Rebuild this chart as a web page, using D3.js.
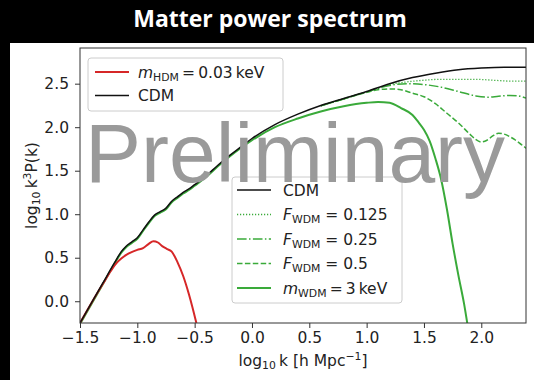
<!DOCTYPE html>
<html>
<head>
<meta charset="utf-8">
<script src="https://cdn.jsdelivr.net/npm/d3@7"></script>
<style>
  html, body { margin: 0; padding: 0; background: #000; }
  svg { display: block; }
</style>
</head>
<body>
<div id="chart"></div>
<script>
// x ticks / y ticks
var xTicks = [-1.5, -1.0, -0.5, 0.0, 0.5, 1.0, 1.5, 2.0];
var yTicks = [0.0, 0.5, 1.0, 1.5, 2.0, 2.5];

// CDM
var cdmLogK = [-1.5, -1.4, -1.3, -1.2, -1.14, -1.1, -1.05, -1.0, -0.95, -0.9, -0.85, -0.8, -0.75, -0.7, -0.65, -0.6, -0.55, -0.5, -0.4, -0.3, -0.2, -0.1, 0.0, 0.2, 0.4, 0.6, 0.8, 1.0, 1.2, 1.4, 1.6, 1.8, 2.0, 2.2, 2.4];
var cdmValues = [-0.25, -0.02, 0.21, 0.44, 0.57, 0.63, 0.68, 0.73, 0.82, 0.91, 0.99, 1.03, 1.07, 1.15, 1.2, 1.25, 1.29, 1.34, 1.44, 1.56, 1.67, 1.77, 1.87, 2.03, 2.15, 2.25, 2.33, 2.41, 2.5, 2.57, 2.62, 2.66, 2.68, 2.69, 2.69];

// HDM 0.03 keV
var hdmLogK = [-1.5, -1.4, -1.3, -1.23, -1.18, -1.14, -1.1, -1.05, -1.0, -0.95, -0.9, -0.86, -0.82, -0.78, -0.74, -0.7, -0.65, -0.6, -0.55, -0.52, -0.485];
var hdmValues = [-0.25, -0.02, 0.2, 0.35, 0.44, 0.49, 0.53, 0.565, 0.59, 0.61, 0.66, 0.69, 0.675, 0.63, 0.6, 0.57, 0.45, 0.29, 0.08, -0.065, -0.25];

// WDM 3 keV
var wdmLogK = [-1.5, -1.4, -1.3, -1.2, -1.14, -1.1, -1.05, -1.0, -0.95, -0.9, -0.85, -0.8, -0.75, -0.7, -0.65, -0.6, -0.55, -0.5, -0.4, -0.3, -0.2, -0.1, 0.0, 0.2, 0.4, 0.6, 0.8, 1.0, 1.1, 1.2, 1.3, 1.4, 1.45, 1.5, 1.55, 1.6, 1.65, 1.7, 1.75, 1.8, 1.85, 1.88];
var wdmValues = [-0.262, -0.032, 0.198, 0.428, 0.558, 0.618, 0.668, 0.718, 0.808, 0.898, 0.978, 1.018, 1.058, 1.138, 1.188, 1.238, 1.278, 1.328, 1.428, 1.548, 1.658, 1.758, 1.85, 2.0, 2.1, 2.18, 2.24, 2.28, 2.29, 2.28, 2.22, 2.14, 2.06, 1.97, 1.84, 1.64, 1.4, 1.06, 0.66, 0.3, -0.03, -0.27];

// F_WDM = 0.5
var f050LogK = [0.6, 0.8, 0.9, 1.0, 1.1, 1.2, 1.3, 1.4, 1.5, 1.6, 1.7, 1.8, 1.9, 1.95, 2.0, 2.05, 2.1, 2.15, 2.2, 2.25, 2.3, 2.35, 2.4];
var f050Values = [2.245, 2.325, 2.365, 2.40, 2.43, 2.44, 2.43, 2.39, 2.35, 2.27, 2.16, 2.05, 1.92, 1.86, 1.83, 1.85, 1.9, 1.93, 1.92, 1.89, 1.85, 1.8, 1.75];

// F_WDM = 0.25
var f025LogK = [0.6, 0.8, 1.0, 1.2, 1.35, 1.5, 1.65, 1.8, 1.95, 2.05, 2.15, 2.25, 2.32, 2.4];
var f025Values = [2.245, 2.325, 2.405, 2.48, 2.5, 2.49, 2.46, 2.41, 2.36, 2.345, 2.355, 2.365, 2.36, 2.33];

// F_WDM = 0.125
var f0125LogK = [0.6, 0.8, 1.0, 1.2, 1.35, 1.5, 1.65, 1.8, 1.95, 2.1, 2.25, 2.4];
var f0125Values = [2.245, 2.325, 2.405, 2.49, 2.52, 2.54, 2.55, 2.55, 2.55, 2.54, 2.53, 2.53];

var width = 534, height = 380;
var margin = {top: 48, right: 8, bottom: 57, left: 80};
var tickFont = "'DejaVu Sans', sans-serif";
var green = "#3aaa3a", red = "#d62728";

var svg = d3.select("#chart").append("svg")
    .attr("width", width)
    .attr("height", height);

svg.append("rect").attr("width", width).attr("height", height).attr("fill", "#000");
svg.append("rect").attr("x", 10).attr("y", 43).attr("width", width - 10).attr("height", height - 43).attr("fill", "#fff");

svg.append("text")
    .attr("x", 270).attr("y", 27)
    .attr("text-anchor", "middle")
    .attr("fill", "#fff")
    .style("font-family", "'Open Sans', sans-serif")
    .style("font-weight", "bold")
    .style("font-size", "23px")
    .text("Matter power spectrum");

var x = d3.scaleLinear().domain([-1.5, 2.39]).range([margin.left, width - margin.right]);
var y = d3.scaleLinear().domain([-0.25, 2.91]).range([height - margin.bottom, margin.top]);

svg.append("clipPath").attr("id", "plotclip")
  .append("rect")
    .attr("x", x.range()[0]).attr("y", y.range()[1])
    .attr("width", x.range()[1] - x.range()[0])
    .attr("height", y.range()[0] - y.range()[1]);

var xAxis = svg.append("g")
    .attr("transform", "translate(0," + y.range()[0] + ")")
    .call(d3.axisBottom(x).tickValues(xTicks).tickFormat(d3.format(".1f")).tickSize(5).tickPadding(4));
var yAxis = svg.append("g")
    .attr("transform", "translate(" + x.range()[0] + ",0)")
    .call(d3.axisLeft(y).tickValues(yTicks).tickFormat(d3.format(".1f")).tickSize(5).tickPadding(6));

[xAxis, yAxis].forEach(function(a) {
    a.select(".domain").remove();
    a.selectAll(".tick line").attr("stroke", "#333");
    a.selectAll(".tick text")
        .attr("fill", "#222")
        .style("font-family", tickFont)
        .style("font-size", "15.5px");
});

function zip(ks, vs) {
    return ks.map(function(k, i) { return [k, vs[i]]; });
}

var line = d3.line()
    .x(function(d) { return x(d[0]); })
    .y(function(d) { return y(d[1]); })
    .curve(d3.curveMonotoneX);

var series = [
    {name: "f0125", data: zip(f0125LogK, f0125Values), color: green, dash: "1.2,1.8", width: 1.3},
    {name: "f025", data: zip(f025LogK, f025Values), color: green, dash: "9.6,2.4,1.5,2.4", width: 1.5},
    {name: "f050", data: zip(f050LogK, f050Values), color: green, dash: "5.5,2.4", width: 1.5},
    {name: "wdm", data: zip(wdmLogK, wdmValues), color: green, dash: null, width: 2},
    {name: "hdm", data: zip(hdmLogK, hdmValues), color: red, dash: null, width: 2},
    {name: "cdm", data: zip(cdmLogK, cdmValues), color: "#111", dash: null, width: 1.5}
];

var plot = svg.append("g").attr("clip-path", "url(#plotclip)");
plot.selectAll("path.series")
    .data(series).enter()
    .append("path")
    .attr("class", "series")
    .attr("fill", "none")
    .attr("stroke", function(s) { return s.color; })
    .attr("stroke-width", function(s) { return s.width; })
    .attr("stroke-dasharray", function(s) { return s.dash; })
    .attr("d", function(s) { return line(s.data); });

svg.append("rect")
    .attr("x", x.range()[0]).attr("y", y.range()[1])
    .attr("width", x.range()[1] - x.range()[0])
    .attr("height", y.range()[0] - y.range()[1])
    .attr("fill", "none")
    .attr("stroke", "#333")
    .attr("stroke-width", 1);

// legend helper: label parts are [text, style] where style is "i" italic, "sub", "sup" or ""
function addLabel(sel, parts, size) {
    var shift = 0;
    parts.forEach(function(p) {
        var t = sel.append("tspan").text(p[0]);
        var target = 0;
        if (p[1] === "i") t.style("font-style", "italic");
        if (p[1] === "sub") { t.style("font-size", (size * 0.7) + "px"); target = size * 0.22; }
        if (p[1] === "sup") { t.style("font-size", (size * 0.7) + "px"); target = -size * 0.38; }
        if (target !== shift) { t.attr("dy", target - shift); shift = target; }
    });
}

function drawLegend(box, entries) {
    var g = svg.append("g");
    g.append("rect")
        .attr("x", box.x).attr("y", box.y)
        .attr("width", box.w).attr("height", box.h)
        .attr("rx", 3)
        .attr("fill", "#fff").attr("fill-opacity", 0.8)
        .attr("stroke", "#ccc");
    entries.forEach(function(e, i) {
        var yy = box.y + box.first + i * box.step;
        g.append("line")
            .attr("x1", box.x + box.hx).attr("x2", box.x + box.hx + 34)
            .attr("y1", yy).attr("y2", yy)
            .attr("stroke", e.s.color)
            .attr("stroke-width", e.s.width)
            .attr("stroke-dasharray", e.s.dash);
        var t = g.append("text")
            .attr("x", box.x + box.tx).attr("y", yy + 5.5)
            .attr("fill", "#222")
            .style("font-family", tickFont)
            .style("font-size", "15.5px");
        addLabel(t, e.label, 15.5);
    });
}

var byName = {};
series.forEach(function(s) { byName[s.name] = s; });

drawLegend({x: 88, y: 58, w: 195, h: 53, first: 14, step: 23.5, hx: 7, tx: 50}, [
    {s: byName.hdm, label: [["m", "i"], ["HDM", "sub"], ["\u2009=\u20090.03\u2009keV", ""]]},
    {s: byName.cdm, label: [["CDM", ""]]}
]);

drawLegend({x: 232, y: 177, w: 170, h: 126, first: 13, step: 24.5, hx: 5, tx: 51}, [
    {s: byName.cdm, label: [["CDM", ""]]},
    {s: byName.f0125, label: [["F", "i"], ["WDM", "sub"], [" = 0.125", ""]]},
    {s: byName.f025, label: [["F", "i"], ["WDM", "sub"], [" = 0.25", ""]]},
    {s: byName.f050, label: [["F", "i"], ["WDM", "sub"], [" = 0.5", ""]]},
    {s: byName.wdm, label: [["m", "i"], ["WDM", "sub"], ["\u2009=\u20093\u2009keV", ""]]}
]);

// axis labels
var xl = svg.append("text")
    .attr("x", (x.range()[0] + x.range()[1]) / 2).attr("y", 366)
    .attr("text-anchor", "middle").attr("fill", "#222")
    .style("font-family", tickFont).style("font-size", "15.5px");
addLabel(xl, [["log", ""], ["10", "sub"], ["\u2009k [h Mpc", ""], ["\u22121", "sup"], ["]", ""]], 15.5);

var yl = svg.append("text")
    .attr("transform", "translate(37," + ((y.range()[0] + y.range()[1]) / 2) + ") rotate(-90)")
    .attr("text-anchor", "middle").attr("fill", "#222")
    .style("font-family", tickFont).style("font-size", "15.5px");
addLabel(yl, [["log", ""], ["10", "sub"], ["\u2009k", ""], ["3", "sup"], ["P(k)", ""]], 15.5);

// watermark
svg.append("text")
    .attr("x", 85).attr("y", 182)
    .attr("fill", "#9a9a9a")
    .style("font-family", "'Liberation Sans', Arial, sans-serif")
    .style("font-size", "84px")
    .text("Preliminary");
</script>
</body>
</html>
